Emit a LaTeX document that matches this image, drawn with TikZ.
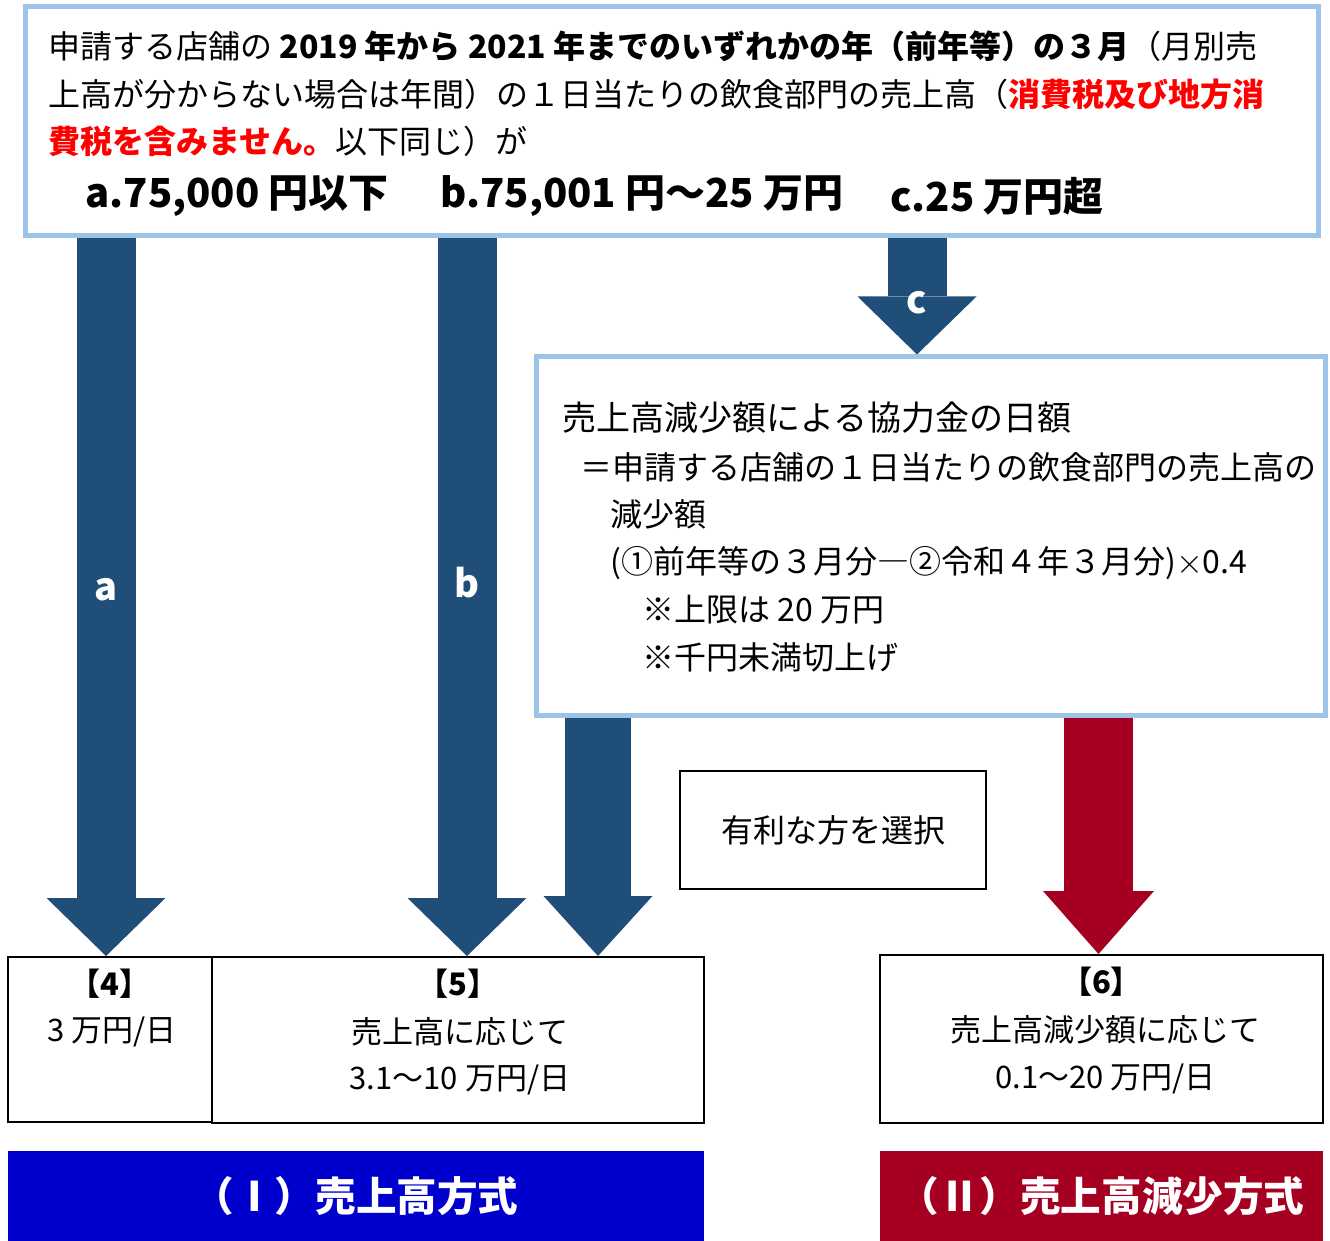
\documentclass[tikz,border=0pt]{standalone}
\usepackage{fontspec}
\setmainfont{Noto Sans CJK JP}
\usepackage{xcolor}
\usetikzlibrary{arrows.meta,positioning,calc,fit,backgrounds}
\definecolor{frameblue}{HTML}{9DC3E6}
\definecolor{arrowblue}{HTML}{1F4E79}
\definecolor{arrowred}{HTML}{A50021}
\definecolor{bandblue}{HTML}{0000CC}
\definecolor{notered}{HTML}{FF0000}

\begin{document}
\begin{tikzpicture}[x=0.5pt, y=-0.5pt,
  frame/.style={draw=frameblue, line width=2.5pt, fill=white, inner sep=0pt},
  result/.style={draw=black, line width=1pt, inner sep=0pt},
  band/.style={inner sep=0pt, text=white, font=\fontsize{20.3}{24}\selectfont\bfseries},
  txt/.style={anchor=west, inner sep=0pt, font=\fontsize{16}{20}\selectfont},
  bigtxt/.style={anchor=west, inner sep=0pt, font=\fontsize{20}{24}\selectfont\bfseries},
  body/.style={inner sep=0pt, font=\fontsize{15.5}{19}\selectfont},
  tag/.style={inner sep=0pt, font=\fontsize{15.5}{19}\selectfont\bfseries},
  arrlabel/.style={text=white, font=\fontsize{19}{22}\selectfont\bfseries},
  flow/.style={draw=arrowblue, line width=29.5pt,
               -{Triangle[length=29pt, width=59.5pt, line width=0pt]}},
  flowshort/.style={draw=arrowblue, line width=33pt,
               -{Triangle[length=30pt, width=54.5pt, line width=0pt]}},
  flowred/.style={draw=arrowred, line width=34.5pt,
               -{Triangle[length=31.5pt, width=55.5pt, line width=0pt]}},
]
  \useasboundingbox (0,0) rectangle (1330,1241);

  % Arrow x-coordinates
  \coordinate (xa) at (106,0);
  \coordinate (xb) at (467,0);
  \coordinate (xc) at (917,0);
  \coordinate (xd) at (598,0);
  \coordinate (xe) at (1098.5,0);

  % Condition box (top)
  \node[frame, fit={(25,7) (1318,236)}] (cond) {};
  \node[txt] (l1) at (48,46) {申請する店舗の \textbf{2019 年から 2021 年までのいずれかの年（前年等）の３月}（月別売};
  \node[txt] (l2) at (48,94) {上高が分からない場合は年間）の１日当たりの飲食部門の売上高（\textcolor{notered}{\bfseries 消費税及び地方消}};
  \node[txt] (l3) at (48,141) {\textcolor{notered}{\bfseries 費税を含みません。}以下同じ）が};
  \node[bigtxt] (ca) at (85,196) {a.75,000 円以下};
  \node[bigtxt] (cb) at (440,196) {b.75,001 円～25 万円};
  \node[bigtxt] (cc) at (890,196) {c.25 万円超};

  % Formula box (c)
  \node[frame, fit={(536,357) (1325,715)}] (formula) {};
  \node[txt, font=\fontsize{17}{20}\selectfont] (f1) at (562,418) {売上高減少額による協力金の日額};
  \node[txt] (f2) at (580,467) {＝申請する店舗の１日当たりの飲食部門の売上高の};
  \node[txt] (f3) at (610,514) {減少額};
  \node[txt] (f4) at (610,563) {(①前年等の３月分―②令和４年３月分)\(\times\)0.4};
  \node[txt] (f5) at (642,610) {※上限は 20 万円};
  \node[txt] (f6) at (642,657) {※千円未満切上げ};

  % Choice note
  \node[result, fit={(680,771) (986,889)}] (choice) {};
  \node[body, font=\fontsize{16}{19}\selectfont] at (choice.center) {有利な方を選択};

  % Result boxes
  \node[result, fit={(8,957) (212,1122)}] (box4) {};
  \node[result, fit={(212,957) (704,1123)}] (box5) {};
  \node[result, fit={(880,955) (1323,1123)}] (box6) {};

  \node[tag] at ($(box4.north)+(0,28)$) {【4】};
  \node[body] at ($(box4.north)+(2,76)$) {3 万円/日};
  \node[tag] at ($(box5.north)+(0,28)$) {【5】};
  \node[body] at ($(box5.north)+(2,76)$) {売上高に応じて};
  \node[body] at ($(box5.north)+(2,124)$) {3.1～10 万円/日};
  \node[tag] at ($(box6.north)+(0,28)$) {【6】};
  \node[body] at ($(box6.north)+(4,76)$) {売上高減少額に応じて};
  \node[body] at ($(box6.north)+(4,125)$) {0.1～20 万円/日};

  % Method bands
  \node[band, fill=bandblue, fit={(8,1151) (704,1241)}] (m1) {};
  \node[band] at (m1.center) {（Ⅰ）売上高方式};
  \node[band, fill=arrowred, fit={(880,1151) (1323,1241)}] (m2) {};
  \node[band] at (m2.center) {（Ⅱ）売上高減少方式};

  % Block arrows
  \begin{scope}[on background layer]
    \draw[flow] (cond.south -| xa) -- (box4.north -| xa)
      node[arrlabel, pos=0.49] {a};
    \draw[flow] (cond.south -| xb) -- (box5.north -| xb)
      node[arrlabel, pos=0.48] {b};
    \draw[flow] (cond.south -| xc) -- (formula.north -| xc)
      node[arrlabel, pos=0.55] {c};
    \draw[flowshort] (formula.south -| xd) -- (box5.north -| xd);
    \draw[flowred] (formula.south -| xe) -- (box6.north -| xe);
  \end{scope}

\end{tikzpicture}
\end{document}
